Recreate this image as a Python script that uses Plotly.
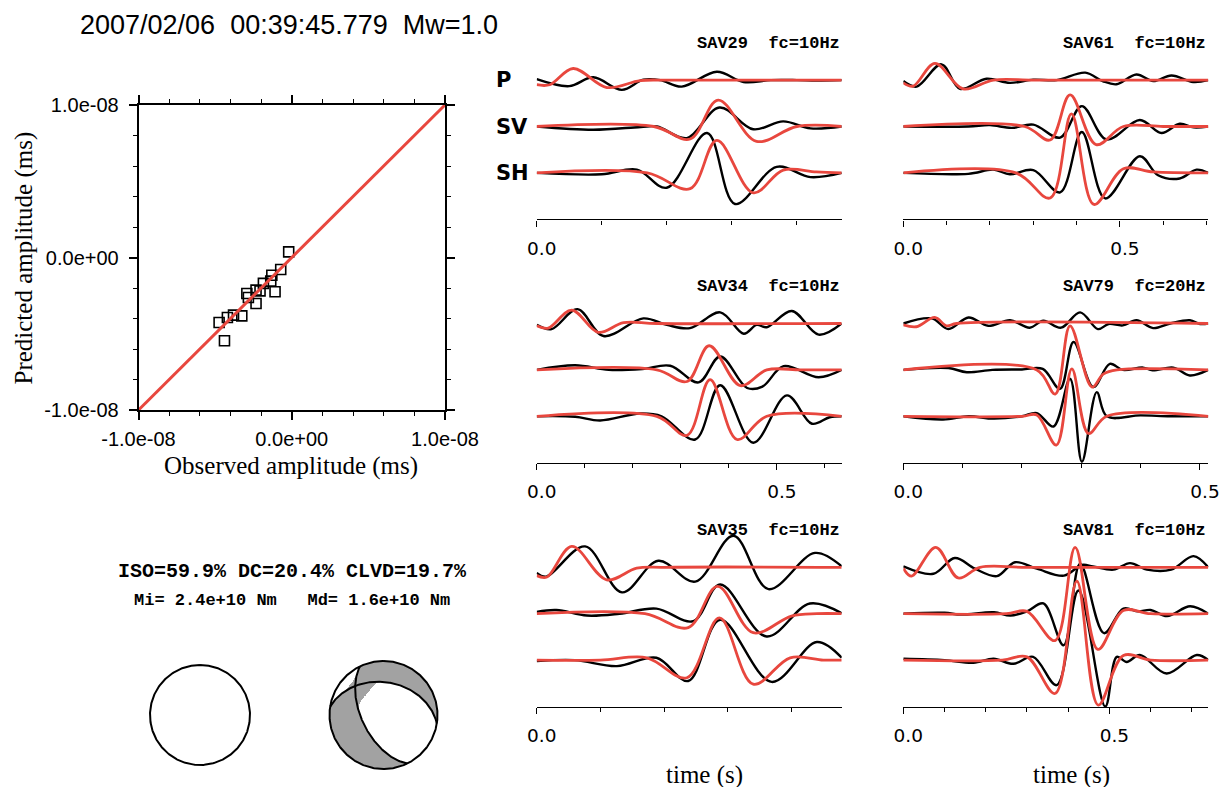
import numpy as np
import plotly.graph_objects as go

W, H = 1222, 787

# ------------------------------------------------------------------ data
event_title = "2007/02/06  00:39:45.779  Mw=1.0"

# amplitude fit (observed vs predicted), ms
obs_amp = [-0.020e-8, -0.072e-8, -0.130e-8, -0.137e-8, -0.185e-8, -0.109e-8, -0.207e-8, -0.233e-8,
           -0.293e-8, -0.283e-8, -0.233e-8, -0.326e-8, -0.380e-8, -0.420e-8, -0.474e-8, -0.439e-8]
pred_amp = [0.037e-8, -0.079e-8, -0.116e-8, -0.155e-8, -0.170e-8, -0.225e-8, -0.219e-8, -0.214e-8,
            -0.236e-8, -0.262e-8, -0.302e-8, -0.383e-8, -0.378e-8, -0.393e-8, -0.426e-8, -0.546e-8]
amp_range = [-1.0e-08, 1.0e-08]
amp_tickvals = [-1.0e-08, 0.0, 1.0e-08]
amp_ticktext = ["-1.0e-08", "0.0e+00", "1.0e-08"]
amp_minor_step = 0.2e-08

decomp_text = "ISO=59.9% DC=20.4% CLVD=19.7%"
moment_text = "Mi= 2.4e+10 Nm   Md= 1.6e+10 Nm"

# deviatoric mechanism: nodal planes (strike, dip) and non-DC lobe
nodal_strikes = [154.0, 279.0]
nodal_dips = [57.0, 39.0]
nondc_strength = 0.20
nondc_tilt_deg = 18.0
nondc_width_deg = 18.0

stations = ["SAV29", "SAV61", "SAV34", "SAV79", "SAV35", "SAV81"]
corner_freq = [10, 10, 10, 20, 10, 10]
record_len = [0.469, 0.704, 0.635, 0.514, 0.479, 0.740]
components = ["P", "SV", "SH"]

# waveforms: (time s, normalised amplitude) read at extrema
sav29_p_obs = [(0, 0.02), (0.05, -0.13), (0.087, 0.06), (0.131, -0.21), (0.164, 0.01), (0.19, 0.0),
               (0.223, -0.14), (0.277, 0.18), (0.318, -0.04), (0.36, 0.0), (0.40, 0.0), (0.43, -0.01), (0.469, 0.0)]
sav29_p_syn = [(0, -0.10), (0.02, -0.10), (0.056, 0.25), (0.108, -0.16), (0.159, -0.01), (0.2, 0.0),
               (0.3, 0.0), (0.469, 0.0)]
sav29_sv_obs = [(0, 0.0), (0.087, -0.07), (0.16, -0.01), (0.185, 0.0), (0.231, -0.25), (0.281, 0.41),
                (0.333, -0.06), (0.379, 0.11), (0.421, -0.04), (0.469, 0.0)]
sav29_sv_syn = [(0, 0.0), (0.18, 0.0), (0.236, -0.27), (0.279, 0.57), (0.338, -0.32), (0.40, 0.0), (0.469, 0.0)]
sav29_sh_obs = [(0, 0.0), (0.1, -0.03), (0.154, 0.07), (0.2, -0.32), (0.262, 0.86), (0.305, -0.67),
                (0.369, 0.13), (0.421, -0.09), (0.469, 0.0)]
sav29_sh_syn = [(0, 0.0), (0.17, 0.0), (0.236, -0.34), (0.277, 0.70), (0.333, -0.43), (0.379, 0.06),
                (0.43, 0.02), (0.469, 0.0)]

sav61_p_obs = [(0, -0.02), (0.031, -0.14), (0.088, 0.34), (0.131, -0.19), (0.192, 0.03), (0.246, -0.06),
               (0.3, 0.01), (0.354, 0.0), (0.42, 0.16), (0.46, -0.02), (0.492, -0.09), (0.538, 0.12),
               (0.577, -0.02), (0.619, 0.10), (0.669, -0.04), (0.704, 0.0)]
sav61_p_syn = [(0, -0.06), (0.023, -0.13), (0.073, 0.36), (0.138, -0.19), (0.208, 0.0), (0.3, 0.0),
               (0.5, 0.0), (0.704, 0.0)]
sav61_sv_obs = [(0, 0.0), (0.15, 0.0), (0.2, 0.03), (0.25, -0.03), (0.3, 0.04), (0.362, -0.24), (0.412, 0.44),
                (0.469, -0.28), (0.546, 0.14), (0.596, -0.14), (0.638, 0.06), (0.67, -0.02), (0.704, 0.0)]
sav61_sv_syn = [(0, 0.0), (0.28, 0.0), (0.339, -0.29), (0.385, 0.68), (0.445, -0.39), (0.508, 0.0),
                (0.6, 0.0), (0.704, 0.0)]
sav61_sh_obs = [(0, 0.0), (0.15, -0.02), (0.208, 0.07), (0.246, -0.03), (0.3, 0.06), (0.362, -0.42),
                (0.412, 0.88), (0.466, -0.55), (0.546, 0.36), (0.588, -0.05), (0.638, -0.12), (0.677, 0.07),
                (0.704, 0.0)]
sav61_sh_syn = [(0, 0.0), (0.26, 0.0), (0.339, -0.54), (0.388, 1.27), (0.44, -0.68), (0.508, 0.09),
                (0.577, 0.02), (0.704, 0.0)]

sav34_p_obs = [(0, -0.03), (0.031, -0.12), (0.085, 0.31), (0.139, -0.27), (0.222, 0.11), (0.271, -0.03),
               (0.319, -0.10), (0.382, 0.24), (0.431, -0.22), (0.458, -0.03), (0.479, -0.08), (0.531, 0.27),
               (0.587, -0.24), (0.635, 0.0)]
sav34_p_syn = [(0, -0.05), (0.024, -0.10), (0.073, 0.29), (0.128, -0.19), (0.181, 0.02), (0.25, 0.0),
               (0.635, 0.0)]
sav34_sv_obs = [(0, 0.0), (0.08, 0.10), (0.15, 0.0), (0.22, 0.02), (0.278, 0.09), (0.337, -0.27),
                (0.382, 0.29), (0.438, -0.39), (0.47, -0.36), (0.514, 0.08), (0.587, -0.16), (0.635, 0.0)]
sav34_sv_syn = [(0, 0.0), (0.25, 0.0), (0.313, -0.25), (0.359, 0.52), (0.424, -0.34), (0.479, 0.0),
                (0.55, 0.0), (0.635, 0.0)]
sav34_sh_obs = [(0, 0.0), (0.08, -0.01), (0.132, -0.09), (0.215, 0.06), (0.26, 0.0), (0.33, -0.50),
                (0.382, 0.67), (0.451, -0.57), (0.521, 0.45), (0.573, -0.16), (0.61, -0.02), (0.635, 0.0)]
sav34_sh_syn = [(0, 0.0), (0.25, 0.0), (0.313, -0.41), (0.361, 0.79), (0.417, -0.50), (0.479, 0.0),
                (0.635, 0.0)]

sav79_p_obs = [(0, 0.0), (0.048, 0.11), (0.076, -0.12), (0.11, 0.13), (0.143, -0.05), (0.18, 0.07),
               (0.213, -0.09), (0.236, 0.06), (0.266, -0.09), (0.298, 0.24), (0.328, -0.12), (0.346, -0.01),
               (0.37, -0.04), (0.393, 0.07), (0.421, -0.10), (0.45, 0.0), (0.483, 0.07), (0.5, -0.01),
               (0.514, 0.0)]
sav79_p_syn = [(0, -0.03), (0.022, -0.07), (0.053, 0.13), (0.073, -0.05), (0.09, 0.0), (0.514, 0.0)]
sav79_sv_obs = [(0, 0.0), (0.076, 0.04), (0.107, -0.05), (0.15, 0.0), (0.2, 0.01), (0.235, 0.02),
                (0.264, -0.41), (0.287, 0.60), (0.32, -0.37), (0.348, 0.13), (0.37, 0.0), (0.404, 0.05),
                (0.42, -0.01), (0.455, 0.05), (0.483, -0.12), (0.514, 0.0)]
sav79_sv_syn = [(0, 0.0), (0.225, 0.0), (0.256, -0.52), (0.281, 0.95), (0.318, -0.37), (0.337, -0.09),
                (0.36, 0.0), (0.514, 0.0)]
sav79_sh_obs = [(0, 0.0), (0.067, -0.07), (0.11, 0.0), (0.152, -0.05), (0.2, 0.0), (0.225, 0.07),
                (0.253, -0.22), (0.281, 0.81), (0.301, -0.98), (0.326, 0.52), (0.343, 0.0), (0.4, 0.02),
                (0.45, 0.0), (0.514, 0.0)]
sav79_sh_syn = [(0, 0.0), (0.2, 0.0), (0.225, 0.03), (0.258, -0.62), (0.284, 1.02), (0.312, -0.37),
                (0.343, 0.0), (0.514, 0.0)]

sav35_p_obs = [(0, -0.12), (0.015, -0.20), (0.076, 0.45), (0.134, -0.54), (0.191, 0.14), (0.249, -0.31),
               (0.309, 0.68), (0.364, -0.47), (0.437, 0.31), (0.479, 0.02)]
sav35_p_syn = [(0, -0.18), (0.016, -0.21), (0.055, 0.45), (0.11, -0.27), (0.157, -0.02), (0.2, 0.0),
               (0.479, 0.0)]
sav35_sv_obs = [(0, 0.04), (0.031, 0.08), (0.079, -0.04), (0.13, 0.0), (0.188, 0.11), (0.246, -0.16),
                (0.288, 0.63), (0.361, -0.49), (0.429, 0.22), (0.479, 0.01)]
sav35_sv_syn = [(0, 0.0), (0.17, 0.0), (0.238, -0.30), (0.284, 0.59), (0.34, -0.41), (0.40, -0.05),
                (0.44, 0.0), (0.479, 0.0)]
sav35_sh_obs = [(0, -0.02), (0.06, 0.0), (0.126, -0.13), (0.188, 0.05), (0.238, -0.45), (0.288, 0.87),
                (0.369, -0.47), (0.44, 0.39), (0.479, 0.05)]
sav35_sh_syn = [(0, 0.0), (0.1, 0.0), (0.173, 0.05), (0.236, -0.38), (0.287, 0.91), (0.34, -0.52),
                (0.398, 0.05), (0.45, 0.0), (0.479, 0.0)]

sav81_p_obs = [(0, 0.02), (0.073, -0.14), (0.125, 0.20), (0.174, -0.03), (0.227, -0.19), (0.271, 0.11),
               (0.324, -0.03), (0.39, -0.18), (0.433, 0.05), (0.46, 0.02), (0.51, -0.05), (0.55, 0.09),
               (0.591, -0.05), (0.65, -0.05), (0.704, 0.24), (0.74, 0.0)]
sav81_p_syn = [(0, -0.02), (0.02, -0.19), (0.079, 0.43), (0.133, -0.23), (0.186, 0.0), (0.3, 0.0), (0.74, 0.0)]
sav81_sv_obs = [(0, 0.0), (0.1, 0.02), (0.14, -0.02), (0.22, 0.03), (0.26, -0.04), (0.3, 0.05), (0.34, 0.22),
                (0.389, -0.68), (0.429, 1.08), (0.487, -0.42), (0.534, 0.11), (0.57, 0.05), (0.6, 0.08),
                (0.64, -0.05), (0.696, 0.16), (0.74, 0.0)]
sav81_sv_syn = [(0, 0.0), (0.25, 0.0), (0.3, 0.05), (0.368, -0.58), (0.417, 1.43), (0.472, -0.77),
                (0.534, 0.07), (0.6, 0.0), (0.74, 0.0)]
sav81_sh_obs = [(0, 0.03), (0.1, 0.0), (0.17, -0.06), (0.219, 0.03), (0.267, -0.08), (0.315, 0.07),
                (0.372, -0.54), (0.425, 1.50), (0.49, -1.00), (0.518, 0.07), (0.542, -0.04), (0.574, 0.11),
                (0.639, -0.29), (0.712, 0.11), (0.74, 0.0)]
sav81_sh_syn = [(0, 0.0), (0.24, 0.0), (0.3, 0.07), (0.368, -0.72), (0.421, 1.70), (0.473, -0.97),
                (0.534, 0.10), (0.6, 0.0), (0.74, 0.0)]

waveforms = {
    "SAV29": {"P": (sav29_p_obs, sav29_p_syn), "SV": (sav29_sv_obs, sav29_sv_syn), "SH": (sav29_sh_obs, sav29_sh_syn)},
    "SAV61": {"P": (sav61_p_obs, sav61_p_syn), "SV": (sav61_sv_obs, sav61_sv_syn), "SH": (sav61_sh_obs, sav61_sh_syn)},
    "SAV34": {"P": (sav34_p_obs, sav34_p_syn), "SV": (sav34_sv_obs, sav34_sv_syn), "SH": (sav34_sh_obs, sav34_sh_syn)},
    "SAV79": {"P": (sav79_p_obs, sav79_p_syn), "SV": (sav79_sv_obs, sav79_sv_syn), "SH": (sav79_sh_obs, sav79_sh_syn)},
    "SAV35": {"P": (sav35_p_obs, sav35_p_syn), "SV": (sav35_sv_obs, sav35_sv_syn), "SH": (sav35_sh_obs, sav35_sh_syn)},
    "SAV81": {"P": (sav81_p_obs, sav81_p_syn), "SV": (sav81_sv_obs, sav81_sv_syn), "SH": (sav81_sh_obs, sav81_sh_syn)},
}

# ------------------------------------------------------------------ style / layout
RED = "#e8473e"
GRAY = "#a2a2a2"
SANS = "Liberation Sans"
SERIF = "Liberation Serif"
MONO = "Liberation Mono"
VERD = "DejaVu Sans"


def fx(px):
    return px / W


def fy(py):
    return 1 - py / H


fig = go.Figure()
layout = dict(width=W, height=H, autosize=False,
              margin=dict(l=0, r=0, t=0, b=0, pad=0, autoexpand=False), showlegend=False,
              paper_bgcolor="white", plot_bgcolor="rgba(0,0,0,0)")
annotations = []


def annot(text, px, py, size, family, xanchor="center", bold=False, angle=0, color="black"):
    t = f"<b>{text}</b>" if bold else text
    annotations.append(dict(text=t, x=fx(px), y=fy(py), xref="paper", yref="paper", showarrow=False,
                            xanchor=xanchor, yanchor="middle", textangle=angle,
                            font=dict(family=family, size=size, color=color)))


# ---- amplitude scatter (x / y)
fig.add_trace(go.Scatter(x=obs_amp, y=pred_amp, mode="markers", xaxis="x", yaxis="y",
                         marker=dict(symbol="square-open", size=10, color="black", line=dict(width=1.6)),
                         hoverinfo="skip"))
fig.add_trace(go.Scatter(x=amp_range, y=amp_range, mode="lines", xaxis="x", yaxis="y",
                         line=dict(color=RED, width=3), hoverinfo="skip"))

sc_l, sc_r, sc_t, sc_b = 138.5, 445.0, 105.0, 410.0
common_amp_axis = dict(range=amp_range, tickmode="array", tickvals=amp_tickvals, ticktext=amp_ticktext,
                       ticks="outside", ticklen=8, tickwidth=1.5, tickcolor="black",
                       showline=True, linewidth=1.6, linecolor="black", mirror="allticks",
                       showgrid=False, zeroline=False, automargin=False, fixedrange=True,
                       tickfont=dict(family=SANS, size=20, color="black"),
                       minor=dict(tickmode="linear", tick0=amp_range[0], dtick=amp_minor_step, ticks="outside",
                                  ticklen=4, tickwidth=1.2, tickcolor="black", showgrid=False))
layout["xaxis"] = dict(domain=[fx(sc_l), fx(sc_r)], anchor="y", ticklabelstandoff=2, **common_amp_axis)
layout["yaxis"] = dict(domain=[fy(sc_b), fy(sc_t)], anchor="x", ticklabelstandoff=6, **common_amp_axis)

annot("Observed amplitude (ms)", 290.7, 466.0, 25, SERIF)
annot("Predicted amplitude (ms)", 23.5, 258.0, 25, SERIF, angle=-90)
annot(event_title, 78.0, 25.5, 27, SANS, xanchor="left")
annot(decomp_text, 292.0, 571.5, 20, MONO, bold=True)
annot(moment_text, 292.0, 600.5, 17, MONO, bold=True)

# ---- beachballs
ang = np.linspace(0, 2 * np.pi, 361)
circ_x, circ_y = np.sin(ang), np.cos(ang)


def unit_from_trend_plunge(tr, pl):
    tr, pl = np.radians(tr), np.radians(pl)
    return np.array([np.cos(pl) * np.cos(tr), np.cos(pl) * np.sin(tr), np.sin(pl)])  # N, E, Down


def project(v):
    n, e, d = v
    f = 1.0 / np.sqrt(1.0 + d)
    return e * f, n * f


poles = [unit_from_trend_plunge(s - 90.0, 90.0 - d) for s, d in zip(nodal_strikes, nodal_dips)]
b_axis = np.cross(poles[0], poles[1])
b_axis /= np.linalg.norm(b_axis)
if b_axis[2] < 0:
    b_axis = -b_axis
w_axis = poles[0] + poles[1]
w_axis -= np.dot(w_axis, b_axis) * b_axis
w_axis /= np.linalg.norm(w_axis)
tilt = np.radians(nondc_tilt_deg)
lobe = np.cos(tilt) * b_axis + np.sin(tilt) * w_axis
lobe /= np.linalg.norm(lobe)

ng = 301
gx = np.linspace(-1, 1, ng)
GX, GY = np.meshgrid(gx, gx)
R2 = GX ** 2 + GY ** 2
D = 1.0 - R2
F = np.sqrt(np.clip(1.0 + D, 0, None))
VN, VE, VD = GY * F, GX * F, D
dot1 = poles[0][0] * VN + poles[0][1] * VE + poles[0][2] * VD
dot2 = poles[1][0] * VN + poles[1][1] * VE + poles[1][2] * VD
dotl = np.abs(lobe[0] * VN + lobe[1] * VE + lobe[2] * VD)
angl = np.degrees(np.arccos(np.clip(dotl, -1, 1)))
val = -2.0 * dot1 * dot2 + nondc_strength * np.exp(-(angl / nondc_width_deg) ** 2)
Z = np.where(val > 0, 1.0, 0.0)
Z[R2 > 1.0] = np.nan

bb_specs = [(200.0, 715.0, 50.0, "x8", "y8", "xaxis8", "yaxis8", False),
            (383.5, 715.0, 54.0, "x9", "y9", "xaxis9", "yaxis9", True)]
for cx, cy, rad, xn, yn, xk, yk, shaded in bb_specs:
    half = rad * 1.1
    layout[xk] = dict(domain=[fx(cx - half), fx(cx + half)], range=[-1.1, 1.1], visible=False,
                      anchor=yn, fixedrange=True, automargin=False)
    layout[yk] = dict(domain=[fy(cy + half), fy(cy - half)], range=[-1.1, 1.1], visible=False,
                      anchor=xn, fixedrange=True, automargin=False)
    if shaded:
        fig.add_trace(go.Heatmap(x=gx, y=gx, z=Z, xaxis=xn, yaxis=yn, zmin=0, zmax=1,
                                 colorscale=[[0, "white"], [1, GRAY]], showscale=False, hoverinfo="skip"))
        for s, d in zip(nodal_strikes, nodal_dips):
            sr, dr = np.radians(s), np.radians(d)
            sv = np.array([np.cos(sr), np.sin(sr), 0.0])
            dv = np.array([-np.cos(dr) * np.sin(sr), np.cos(dr) * np.cos(sr), np.sin(dr)])
            a = np.linspace(0, np.pi, 181)
            pts = [project(np.cos(t) * sv + np.sin(t) * dv) for t in a]
            fig.add_trace(go.Scatter(x=[p[0] for p in pts], y=[p[1] for p in pts], mode="lines",
                                     xaxis=xn, yaxis=yn, line=dict(color="black", width=2),
                                     hoverinfo="skip"))
    fig.add_trace(go.Scatter(x=circ_x, y=circ_y, mode="lines", xaxis=xn, yaxis=yn,
                             line=dict(color="black", width=2), hoverinfo="skip"))

# ---- waveform panels
col_px = [(536.7, 841.7), (903.3, 1208.3)]
row_axis_px = [219.3, 462.7, 706.5]
title_px = [43.3, 286.7, 530.7]
unit_px = 46.4
comp_offset = {"P": 3.0, "SV": 2.0, "SH": 1.0}
below_px, above_px = 14.0, 200.0

for i, st in enumerate(stations):
    row, col = divmod(i, 2)
    k = i + 2
    xn, yn = f"x{k}", f"y{k}"
    x0, x1 = col_px[col]
    ay = row_axis_px[row]
    layout[f"xaxis{k}"] = dict(domain=[fx(x0), fx(x1)], anchor="free", position=fy(ay),
                               range=[0, record_len[i]], showline=True, linecolor="black", linewidth=1.4,
                               ticks="outside", ticklen=6, tickwidth=1.4, tickcolor="black",
                               tickmode="linear", tick0=0, dtick=0.5, tickformat=".1f",
                               showgrid=False, zeroline=False, fixedrange=True, automargin=False,
                               tickfont=dict(family=VERD, size=18.5, color="black"),
                               ticklabelstandoff=6, ticklabelshift=5,
                               minor=dict(tickmode="linear", tick0=0, dtick=0.1, ticks="outside",
                                          ticklen=4, tickwidth=1.3, tickcolor="black", showgrid=False))
    layout[f"yaxis{k}"] = dict(domain=[fy(ay + below_px), fy(ay - above_px)],
                               range=[-below_px / unit_px, above_px / unit_px], visible=False,
                               anchor=xn, fixedrange=True, automargin=False)
    for comp in components:
        obs, syn = waveforms[st][comp]
        off = comp_offset[comp]
        fig.add_trace(go.Scatter(x=[p[0] for p in obs], y=[off + p[1] for p in obs], mode="lines",
                                 xaxis=xn, yaxis=yn, line=dict(color="black", width=2.4, shape="spline",
                                                               smoothing=1.0), hoverinfo="skip"))
    for comp in components:
        obs, syn = waveforms[st][comp]
        off = comp_offset[comp]
        fig.add_trace(go.Scatter(x=[p[0] for p in syn], y=[off + p[1] for p in syn], mode="lines",
                                 xaxis=xn, yaxis=yn, line=dict(color=RED, width=2.8, shape="spline",
                                                               smoothing=1.0), hoverinfo="skip"))
    annot(f"{st}  fc={corner_freq[i]}Hz", x1, title_px[row], 17, MONO, xanchor="right", bold=True)

# component labels on first panel
for comp in components:
    base_py = row_axis_px[0] - comp_offset[comp] * unit_px
    annot(f"<b>{comp}</b>", 494.0, base_py, 21, VERD, xanchor="left")

annot("time (s)", 705.0, 775.0, 25, SERIF)
annot("time (s)", 1071.7, 775.0, 25, SERIF)

layout["annotations"] = annotations
fig.update_layout(**layout)
fig.write_html("out.html")
